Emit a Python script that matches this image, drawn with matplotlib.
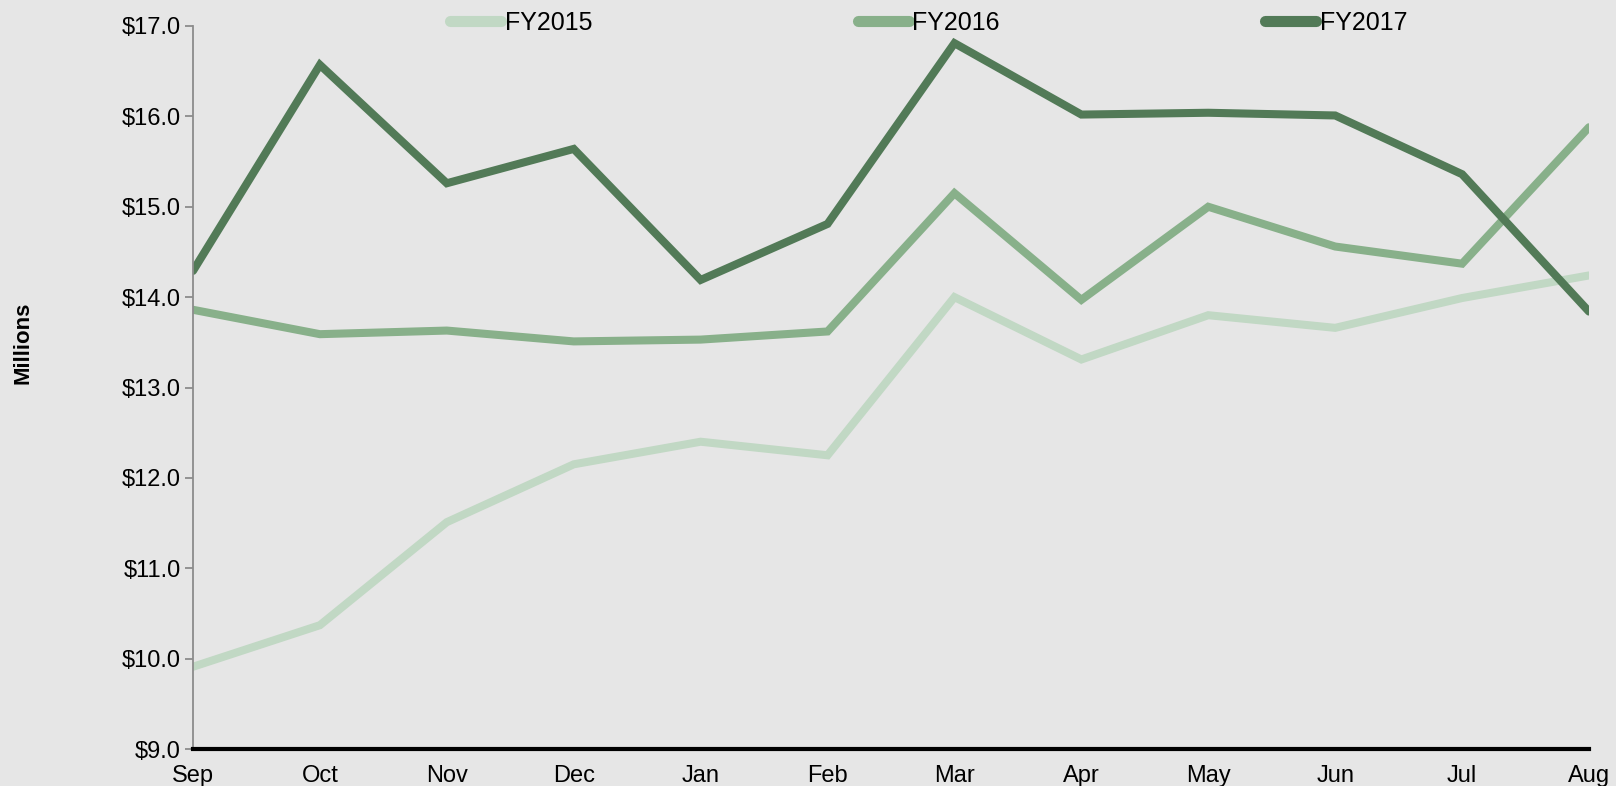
import numpy as np
import matplotlib
matplotlib.use('Agg')
import matplotlib.pyplot as plt

# monthly values, millions of dollars
months = ['Sep', 'Oct', 'Nov', 'Dec', 'Jan', 'Feb', 'Mar', 'Apr', 'May', 'Jun', 'Jul', 'Aug']
fy2015 = [9.91, 10.37, 11.51, 12.15, 12.40, 12.25, 14.00, 13.31, 13.80, 13.66, 13.99, 14.24]
fy2016 = [13.86, 13.59, 13.63, 13.51, 13.53, 13.62, 15.15, 13.97, 15.00, 14.56, 14.37, 15.88]
fy2017 = [14.29, 16.57, 15.26, 15.64, 14.19, 14.81, 16.81, 16.02, 16.04, 16.01, 15.36, 13.84]
series_names = ['FY2015', 'FY2016', 'FY2017']
colors = ['#c1d8c4', '#88b08a', '#527a57']
yticks = [9, 10, 11, 12, 13, 14, 15, 16, 17]

plt.rcParams['font.family'] = ['Liberation Sans', 'DejaVu Sans']

bg = '#e6e6e6'
fig = plt.figure(figsize=(16.16, 7.86), dpi=100, facecolor=bg)
ax = fig.add_axes([193 / 1616, 1 - 749 / 786, (1589 - 193) / 1616, (749 - 26) / 786])
ax.set_facecolor(bg)

x = np.arange(len(months))
for vals, name, c in zip([fy2015, fy2016, fy2017], series_names, colors):
    ax.plot(x, vals, color=c, lw=5.8, label=name, solid_joinstyle='miter',
            solid_capstyle='round')

ax.set_xlim(0, len(months) - 1)
ax.set_ylim(9, 17)
ax.set_yticks(yticks)
ax.set_yticklabels(['$%.1f' % v for v in yticks], fontsize=17)
ax.set_xticks(x)
ax.set_xticklabels(months, fontsize=17)
ax.tick_params(axis='x', length=0, pad=11.5)
ax.tick_params(axis='y', length=6, width=1.3, color='#8c8c8c', pad=3)

for s in ['top', 'right']:
    ax.spines[s].set_visible(False)
ax.spines['left'].set_color('#8c8c8c')
ax.spines['left'].set_linewidth(1.3)
ax.spines['bottom'].set_color('black')
ax.spines['bottom'].set_linewidth(3)

fig.text(23 / 1616, 1 - 343 / 786, 'Millions', rotation=90, fontsize=16,
         fontweight='bold', ha='center', va='center')

leg = fig.legend(loc='center left', bbox_to_anchor=(450 / 1616, 1 - 23 / 786), ncol=3,
                 frameon=False, handlelength=2.04, handletextpad=0.16, columnspacing=10.6,
                 borderpad=0, borderaxespad=0, prop={'size': 18})
for h in leg.get_lines():
    h.set_linewidth(8)
    h.set_solid_capstyle('round')

fig.savefig('out.png', dpi=100, facecolor=bg)
